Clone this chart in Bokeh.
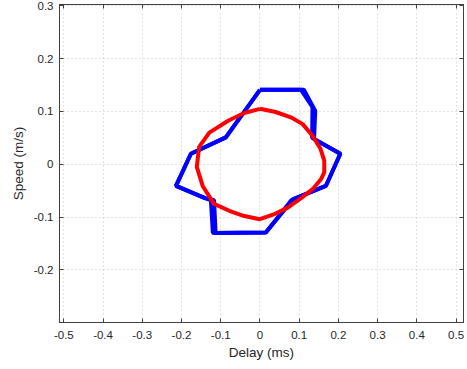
from bokeh.plotting import figure
from bokeh.models import LinearAxis, FixedTicker, Range1d
from bokeh.embed import file_html
from bokeh.resources import INLINE

# tick positions
x_ticks = [-0.5, -0.4, -0.3, -0.2, -0.1, 0.0, 0.1, 0.2, 0.3, 0.4, 0.5]
y_ticks = [-0.2, -0.1, 0.0, 0.1, 0.2, 0.3]
x_labels = {-0.5: "-0.5", -0.4: "-0.4", -0.3: "-0.3", -0.2: "-0.2", -0.1: "-0.1",
            0.0: "0", 0.1: "0.1", 0.2: "0.2", 0.3: "0.3", 0.4: "0.4", 0.5: "0.5"}
y_labels = {-0.2: "-0.2", -0.1: "-0.1", 0.0: "0", 0.1: "0.1", 0.2: "0.2", 0.3: "0.3"}

# blue trace (two overlapping cycles)
blue1_delay = [0.000, 0.105, 0.134, 0.133, 0.205, 0.168, 0.080, 0.015, -0.120, -0.125, -0.140, -0.214, -0.176, -0.087, 0.000]
blue1_speed = [0.141, 0.141, 0.108, 0.050, 0.020, -0.041, -0.068, -0.129, -0.130, -0.068, -0.064, -0.041, 0.020, 0.051, 0.141]
blue2_delay = [0.000, 0.112, 0.141, 0.138, 0.205, 0.168, 0.085, 0.015, -0.113, -0.117, -0.140, -0.214, -0.176, -0.087, 0.000]
blue2_speed = [0.141, 0.141, 0.101, 0.048, 0.020, -0.041, -0.066, -0.129, -0.130, -0.068, -0.064, -0.041, 0.020, 0.051, 0.141]

# red trace
red_delay = [0.000, 0.040, 0.079, 0.109, 0.134, 0.154, 0.164, 0.164, 0.156, 0.136, 0.105, 0.071, 0.035,
             0.000, -0.040, -0.078, -0.117, -0.146, -0.161, -0.155, -0.129, -0.080, -0.040, 0.000]
red_speed = [0.105, 0.099, 0.089, 0.076, 0.054, 0.030, 0.007, -0.015, -0.028, -0.046, -0.064, -0.082, -0.095,
             -0.104, -0.098, -0.088, -0.075, -0.041, -0.005, 0.033, 0.060, 0.083, 0.097, 0.105]

FONT = "Liberation Sans"
TXT = "#262626"
AX = "#404040"

p = figure(width=467, height=369, output_backend="svg", toolbar_location=None,
           x_range=Range1d(-0.511, 0.519), y_range=Range1d(-0.2995, 0.3025),
           min_border_left=59, min_border_right=4, min_border_top=4, min_border_bottom=47,
           x_axis_label="Delay (ms)", y_axis_label="Speed (m/s)")

p.outline_line_color = AX
p.outline_line_width = 1
p.background_fill_color = "white"
p.border_fill_color = "white"

for ax, ticks, labels in ((p.xaxis[0], x_ticks, x_labels), (p.yaxis[0], y_ticks, y_labels)):
    ax.ticker = FixedTicker(ticks=ticks)
    ax.major_label_overrides = labels
    ax.major_tick_in = 4
    ax.major_tick_out = 0
    ax.minor_tick_in = 0
    ax.minor_tick_out = 0
    ax.axis_line_color = AX
    ax.major_tick_line_color = AX
    ax.major_label_text_font = FONT
    ax.major_label_text_font_size = "11.5px"
    ax.major_label_text_color = TXT
    ax.axis_label_text_font = FONT
    ax.axis_label_text_font_size = "13.5px"
    ax.axis_label_text_font_style = "normal"
    ax.axis_label_text_color = TXT

p.xaxis[0].major_label_standoff = 8
p.xaxis[0].axis_label_standoff = 3
p.yaxis[0].major_label_standoff = 6
p.yaxis[0].axis_label_standoff = 5

for loc, ticks in (("above", x_ticks), ("right", y_ticks)):
    ax = LinearAxis(ticker=FixedTicker(ticks=ticks), major_tick_in=4, major_tick_out=0,
                    minor_tick_in=0, minor_tick_out=0,
                    major_label_overrides={t: "" for t in ticks},
                    major_label_standoff=0, axis_line_color=AX, major_tick_line_color=AX)
    p.add_layout(ax, loc)

for g, ticks in ((p.xgrid[0], x_ticks), (p.ygrid[0], y_ticks)):
    g.ticker = FixedTicker(ticks=ticks)
    g.grid_line_color = "#c8c8c8"
    g.grid_line_dash = "1 3"
    g.grid_line_width = 1

p.line(blue1_delay, blue1_speed, line_color="#0000ff", line_width=4)
p.line(blue2_delay, blue2_speed, line_color="#0000ff", line_width=4)
p.line(red_delay, red_speed, line_color="#ff0000", line_width=4)

open("out.html", "w").write(file_html(p, INLINE))
